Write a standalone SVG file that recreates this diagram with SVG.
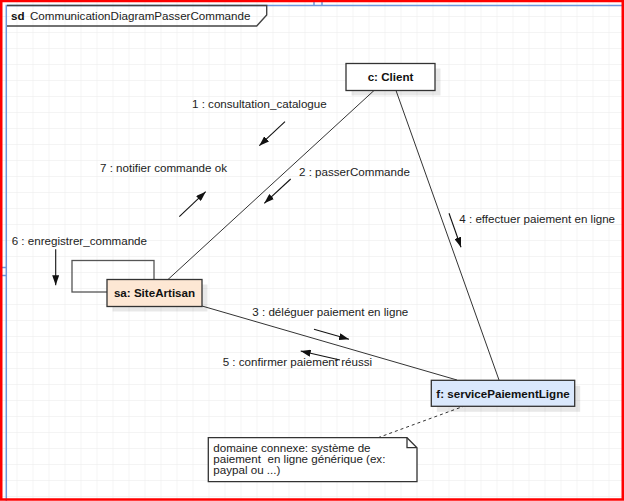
<svg xmlns="http://www.w3.org/2000/svg" width="624" height="501" viewBox="0 0 624 501">
  <defs>
    <pattern id="grid" x="0.5" y="0" width="16" height="16" patternUnits="userSpaceOnUse">
      <path d="M0,0 H16 M0,0 V16" fill="none" stroke="#e9e9e9" stroke-width="1"/>
    </pattern>
    <marker id="head" viewBox="0 0 10 7" markerWidth="10" markerHeight="7" refX="10" refY="3.5" orient="auto" markerUnits="userSpaceOnUse">
      <path d="M0,0 L10,3.5 L0,7 z" fill="#111"/>
    </marker>
    <style>
      text { font-family: "Liberation Sans", Arial, sans-serif; font-size: 11.6px; fill: #222; }
      .bold { font-weight: bold; fill: #111; }
      .node { stroke: #333; stroke-width: 1.3; }
      .shadow { fill: #000; opacity: 0.09; }
      .link { fill: none; stroke: #333; stroke-width: 1; }
      .msg { fill: none; stroke: #111; stroke-width: 1.1; marker-end: url(#head); }
      .sel { stroke: #6d97dc; stroke-width: 1.5; fill: none; }
    </style>
  </defs>

  <!-- canvas background and grid -->
  <rect width="624" height="501" fill="#fff"/>
  <rect width="624" height="501" fill="url(#grid)"/>

  <!-- frame selection outline -->
  <path class="sel" d="M6.3,501 V5.5 H622"/>
  <path class="sel" d="M314,0 V5 M322,0 V5 M2,267.5 H6 M2,275.5 H6"/>

  <!-- sd frame tab -->
  <g id="frame">
    <path d="M7,5.5 H266.7 V15 L256.7,26 H7" fill="none" stroke="#444" stroke-width="1.4"/>
    <text x="11" y="20" class="bold">sd</text>
    <text x="30" y="20">CommunicationDiagramPasserCommande</text>
  </g>

  <!-- links between objects and message arrows -->
  <g id="connectors">
    <path class="link" d="M374,90.5 L168,279.5"/>
    <path class="link" d="M396,90.5 L499,380"/>
    <path class="link" d="M202,306 L457,380"/>
    <path d="M378,437.7 L463,406.5" fill="none" stroke="#333" stroke-width="1" stroke-dasharray="3,3"/>
    <rect x="72" y="260.5" width="82" height="31.5" fill="none" stroke="#555" stroke-width="1.3"/>

    <path class="msg" d="M285,121.7 L259.3,145.7"/>
    <path class="msg" d="M290.7,179 L264.3,203.3"/>
    <path class="msg" d="M179.3,216.7 L205.7,191.7"/>
    <path class="msg" d="M55.7,249.3 L55.7,285.3"/>
    <path class="msg" d="M314,329.3 L349,339.3"/>
    <path class="msg" d="M340,360 L300.7,351"/>
    <path class="msg" d="M449,213.3 L461,247.3"/>

    <text x="192" y="108.3">1 : consultation_catalogue</text>
    <text x="299" y="175.5">2 : passerCommande</text>
    <text x="100" y="172">7 : notifier commande ok</text>
    <text x="11.7" y="245">6 : enregistrer_commande</text>
    <text x="252.3" y="316.3">3 : déléguer paiement en ligne</text>
    <text x="222.7" y="366.3">5 : confirmer paiement réussi</text>
    <text x="459.3" y="223.3">4 : effectuer paiement en ligne</text>
  </g>

  <g id="client">
    <rect class="shadow" x="351.5" y="68.5" width="89" height="27"/>
    <rect class="node" x="346" y="63.5" width="89" height="27" fill="#fff"/>
    <text x="390.5" y="80.5" text-anchor="middle" class="bold">c: Client</text>
  </g>

  <g id="siteArtisan">
    <rect class="shadow" x="112.5" y="284.5" width="95" height="27"/>
    <rect class="node" x="107" y="279.5" width="95" height="27" fill="#fde7d4"/>
    <text x="154.5" y="296.5" text-anchor="middle" class="bold">sa: SiteArtisan</text>
  </g>

  <g id="servicePaiement">
    <rect class="shadow" x="436.8" y="385.8" width="143.4" height="26"/>
    <rect class="node" x="431.3" y="380.3" width="143.4" height="26" fill="#dae8fc"/>
    <text x="503" y="397.5" text-anchor="middle" class="bold">f: servicePaiementLigne</text>
  </g>

  <g id="note">
    <path d="M208.3,437.7 H407 L417,447.7 V481.7 H208.3 Z" fill="#fff" stroke="#333" stroke-width="1.3"/>
    <path d="M407,437.7 V447.7 H417" fill="none" stroke="#333" stroke-width="1.3"/>
    <text x="213.3" y="452.3">domaine connexe: système de</text>
    <text x="213.3" y="463" xml:space="preserve">paiement  en ligne générique (ex:</text>
    <text x="213.3" y="473.7">paypal ou ...)</text>
  </g>

  <!-- outer red border -->
  <rect x="1.25" y="1" width="621.5" height="498.5" fill="none" stroke="#ff0000" stroke-width="2.5"/>
</svg>
